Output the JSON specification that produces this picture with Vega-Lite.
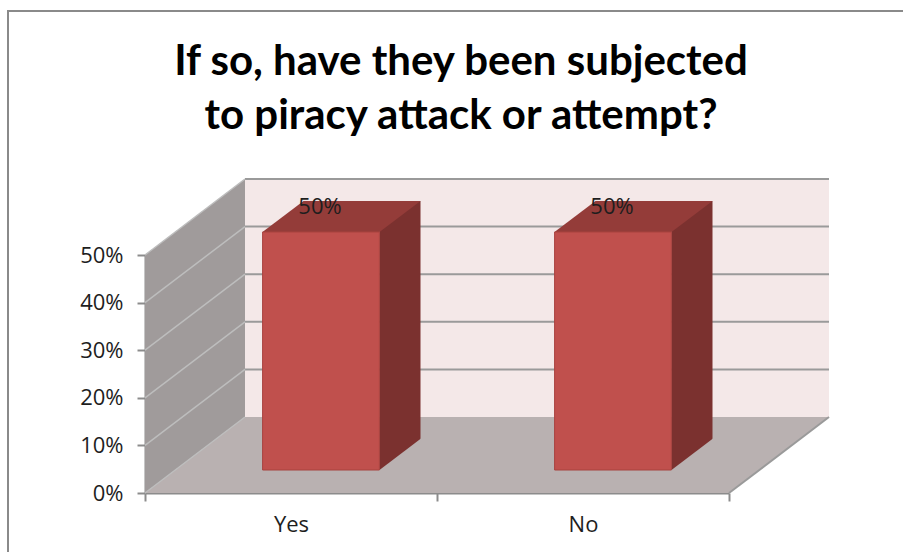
{
  "$schema": "https://vega.github.io/schema/vega-lite/v6.json",
  "autosize": {"type": "none"},
  "width": 584,
  "height": 238,
  "padding": {"left": 145, "top": 255, "right": 174, "bottom": 59},
  "background": "white",
  "title": {
    "text": ["If so, have they been subjected", "to piracy attack or attempt?"],
    "font": "Lato",
    "fontSize": 42,
    "fontWeight": "bold",
    "color": "#000000",
    "anchor": "middle",
    "frame": "group",
    "lineHeight": 54,
    "offset": -131,
    "dx": 24
  },
  "datasets": {
    "answers": [
      {"answer": "Yes", "share": 0.5},
      {"answer": "No", "share": 0.5}
    ],
    "levels": [
      {"level": 0}, {"level": 0.1}, {"level": 0.2}, {"level": 0.3}, {"level": 0.4}, {"level": 0.5}
    ]
  },
  "config": {
    "view": {"stroke": null},
    "axis": {
      "labelFont": "Open Sans",
      "labelFontSize": 22,
      "labelColor": "#1e1e1e",
      "domainColor": "#8c8c8c",
      "domainWidth": 2,
      "tickColor": "#8c8c8c",
      "tickWidth": 2,
      "tickSize": 8,
      "grid": false,
      "title": null
    },
    "axisX": {"tickBand": "extent", "labelPadding": 13, "labelAngle": 0},
    "axisY": {"labelPadding": 14}
  },
  "layer": [
    {
      "data": {"values": [{}]},
      "mark": {"type": "point", "shape": "M0,0 L0,-238 L100,-314 L100,-76 Z", "size": 4, "filled": true, "fill": "#a09b9b", "strokeWidth": 0, "opacity": 1},
      "encoding": {
        "x": {"datum": "Yes", "type": "nominal", "bandPosition": 0, "title": null},
        "y": {"datum": 0, "type": "quantitative", "title": null}
      }
    },
    {
      "data": {"values": [{}]},
      "mark": {"type": "point", "shape": "M0,0 L584,0 L684,-76 L100,-76 Z", "size": 4, "filled": true, "fill": "#b9b1b1", "strokeWidth": 0, "opacity": 1},
      "encoding": {
        "x": {"datum": "Yes", "type": "nominal", "bandPosition": 0, "title": null},
        "y": {"datum": 0, "type": "quantitative", "title": null}
      }
    },
    {
      "data": {"name": "answers"},
      "mark": {"type": "bar", "fill": "#f4e8e8", "opacity": 1, "width": {"band": 1}, "xOffset": 100, "yOffset": -76, "y2Offset": -76},
      "encoding": {
        "x": {"field": "answer", "type": "nominal", "title": null},
        "y": {"datum": 0.5, "type": "quantitative", "title": null},
        "y2": {"datum": 0}
      }
    },
    {
      "data": {"name": "levels"},
      "transform": [{"filter": "datum.level > 0"}],
      "mark": {"type": "point", "shape": "M100,-76 L684,-76", "size": 4, "filled": false, "stroke": "#9a9a9a", "strokeWidth": 2, "opacity": 1},
      "encoding": {
        "x": {"datum": "Yes", "type": "nominal", "bandPosition": 0, "title": null},
        "y": {"field": "level", "type": "quantitative", "title": null}
      }
    },
    {
      "data": {"name": "levels"},
      "mark": {"type": "point", "shape": "M0,0 L100,-76", "size": 4, "filled": false, "stroke": "#bdbdbd", "strokeWidth": 1.5, "opacity": 1},
      "encoding": {
        "x": {"datum": "Yes", "type": "nominal", "bandPosition": 0, "title": null},
        "y": {"field": "level", "type": "quantitative", "title": null}
      }
    },
    {
      "data": {"values": [{}]},
      "mark": {"type": "point", "shape": "M584,0 L684,-76", "size": 4, "filled": false, "stroke": "#9a9a9a", "strokeWidth": 2, "opacity": 1},
      "encoding": {
        "x": {"datum": "Yes", "type": "nominal", "bandPosition": 0, "title": null},
        "y": {"datum": 0, "type": "quantitative", "title": null}
      }
    },
    {
      "data": {"values": [{}]},
      "mark": {"type": "point", "shape": "M-137,320 L-137,-244 L780,-244", "size": 4, "filled": false, "stroke": "#8a8a8a", "strokeWidth": 2, "opacity": 1},
      "encoding": {
        "x": {"datum": "Yes", "type": "nominal", "bandPosition": 0, "title": null},
        "y": {"datum": 0.5, "type": "quantitative", "title": null}
      }
    },
    {
      "data": {"name": "answers"},
      "mark": {"type": "bar", "fill": "#7b312f", "opacity": 1, "width": {"band": 0.1404}, "xOffset": 109, "yOffset": -54, "y2Offset": -23},
      "encoding": {
        "x": {"field": "answer", "type": "nominal", "title": null},
        "y": {"field": "share", "type": "quantitative", "title": null},
        "y2": {"datum": 0}
      }
    },
    {
      "data": {"name": "answers"},
      "mark": {"type": "point", "shape": "M-28.5,-23 L88.5,-23 L129.5,-54 L12.5,-54 Z", "size": 4, "filled": true, "fill": "#943c39", "strokeWidth": 0, "opacity": 1},
      "encoding": {
        "x": {"field": "answer", "type": "nominal", "title": null},
        "y": {"field": "share", "type": "quantitative", "title": null}
      }
    },
    {
      "data": {"name": "answers"},
      "mark": {"type": "point", "shape": "M88.5,-23 L130,-23 L130,-54.5 Z", "size": 4, "filled": true, "fill": "#b9b1b1", "strokeWidth": 0, "opacity": 1},
      "encoding": {
        "x": {"field": "answer", "type": "nominal", "title": null},
        "y": {"datum": 0, "type": "quantitative", "title": null}
      }
    },
    {
      "data": {"name": "answers"},
      "mark": {"type": "bar", "fill": "#c0504d", "stroke": "#a8423f", "strokeWidth": 1, "opacity": 1, "width": {"band": 0.4}, "xOffset": 30, "yOffset": -23, "y2Offset": -23},
      "encoding": {
        "x": {
          "field": "answer",
          "type": "nominal",
          "title": null,
          "sort": ["Yes", "No"],
          "scale": {"domain": ["Yes", "No"], "paddingInner": 0, "paddingOuter": 0},
          "axis": {"title": null, "labelAngle": 0}
        },
        "y": {
          "field": "share",
          "type": "quantitative",
          "title": null,
          "scale": {"domain": [0, 0.5], "nice": false, "zero": true},
          "axis": {"title": null, "values": [0, 0.1, 0.2, 0.3, 0.4, 0.5], "format": ".0%"}
        },
        "y2": {"datum": 0}
      }
    },
    {
      "data": {"name": "answers"},
      "mark": {"type": "text", "font": "Open Sans", "fontSize": 22, "color": "#1e1e1e", "dx": 29, "dy": -48, "baseline": "middle", "align": "center"},
      "encoding": {
        "x": {"field": "answer", "type": "nominal", "title": null},
        "y": {"field": "share", "type": "quantitative", "title": null},
        "text": {"field": "share", "type": "quantitative", "format": ".0%"}
      }
    }
  ]
}
